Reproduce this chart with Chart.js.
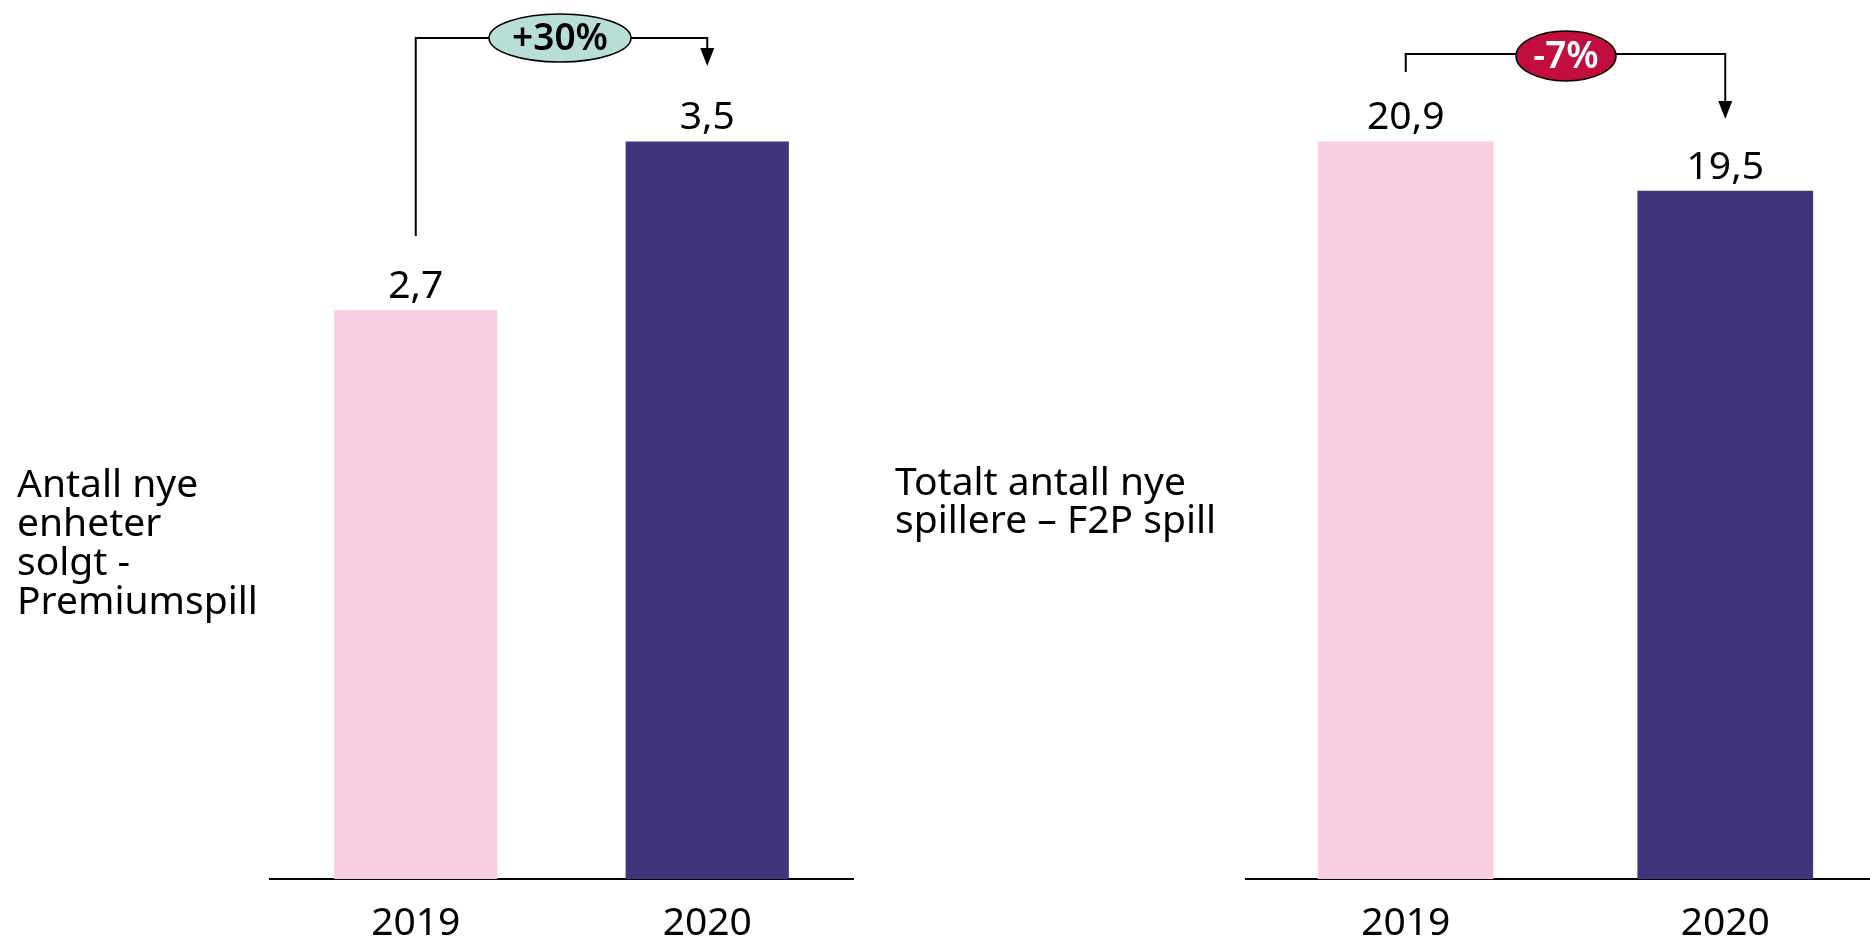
<!DOCTYPE html>
<html>
<head>
<meta charset="utf-8">
<script src="https://cdn.jsdelivr.net/npm/chart.js@4"></script>
<style>
  html, body { margin: 0; padding: 0; background: #fff; overflow: hidden; width: 1870px; height: 941px; }
  .wrap { position: absolute; top: 0; height: 941px; }
</style>
</head>
<body>
<div class="wrap" style="left:0;width:870px"><canvas id="chartPremium" width="870" height="941"></canvas></div>
<div class="wrap" style="left:880px;width:1005px"><canvas id="chartF2P" width="1005" height="941"></canvas></div>
<script>
// --- données ---
const years = ['2019', '2020'];
const premiumValues = [2.7, 3.5];
const f2pValues = [20.9, 19.5];
const barColors = ['#F8CEE3', '#3E357C'];
const premiumTitle = ['Antall nye', 'enheter', 'solgt -', 'Premiumspill'];
const f2pTitle = ['Totalt antall nye', 'spillere – F2P spill'];
const premiumChange = '+30%';
const f2pChange = '-7%';

const FONT = "'Noto Sans', 'DejaVu Sans', sans-serif";

function fmt(v) { return String(v).replace('.', ','); }

// étiquettes de valeur, titre de gauche et flèche de variation
const decorPlugin = {
    id: 'decor',
    afterDatasetsDraw(chart) {
        const ctx = chart.ctx;
        const o = chart.options.plugins.decor;
        const bars = chart.getDatasetMeta(0).data;
        const vals = chart.data.datasets[0].data;

        ctx.save();
        ctx.fillStyle = '#000';
        ctx.font = '39px ' + FONT;
        ctx.textAlign = 'center';
        ctx.textBaseline = 'alphabetic';
        bars.forEach((b, i) => ctx.fillText(fmt(vals[i]), b.x, b.y - 12));

        // titre
        ctx.textAlign = 'left';
        o.title.forEach((l, i) => ctx.fillText(l, o.titleX, o.titleY + i * o.lineH));

        // crochet + flèche
        const x1 = bars[0].x, x2 = bars[1].x;
        ctx.strokeStyle = '#000';
        ctx.lineWidth = 2;
        ctx.beginPath();
        ctx.moveTo(x1, o.legBottom);
        ctx.lineTo(x1, o.lineY);
        ctx.lineTo(x2, o.lineY);
        ctx.lineTo(x2, o.arrowTip - 16);
        ctx.stroke();
        ctx.fillStyle = '#000';
        ctx.beginPath();
        ctx.moveTo(x2 - 7, o.arrowTip - 18);
        ctx.lineTo(x2 + 7, o.arrowTip - 18);
        ctx.lineTo(x2, o.arrowTip);
        ctx.closePath();
        ctx.fill();

        // ellipse
        ctx.beginPath();
        ctx.ellipse(o.ellX, o.ellY, o.rx, o.ry, 0, 0, Math.PI * 2);
        ctx.fillStyle = o.ellFill;
        ctx.fill();
        ctx.lineWidth = 1.5;
        ctx.stroke();
        ctx.fillStyle = o.ellText;
        ctx.font = '600 37px ' + FONT;
        ctx.textAlign = 'center';
        ctx.textBaseline = 'middle';
        ctx.fillText(o.change, o.ellX, o.ellY + 1);
        ctx.restore();
    }
};

function makeChart(id, values, yMax, pad, decor) {
    return new Chart(document.getElementById(id), {
        type: 'bar',
        data: {
            labels: years,
            datasets: [{ data: values, backgroundColor: barColors, categoryPercentage: 1, barPercentage: decor.barPct }]
        },
        options: {
            responsive: false,
            animation: false,
            layout: { padding: pad },
            plugins: { legend: { display: false }, tooltip: { enabled: false }, decor: decor },
            scales: {
                x: {
                    grid: { display: false },
                    border: { display: true, color: '#000', width: 2 },
                    ticks: { color: '#000', font: { family: FONT, size: 39 }, padding: 13 },
                    afterFit: s => { s.height = 62; }
                },
                y: { display: false, min: 0, max: yMax }
            }
        },
        plugins: [decorPlugin]
    });
}

makeChart('chartPremium', premiumValues, 4, { left: 270, right: 17, top: 36, bottom: 0 }, {
    title: premiumTitle, titleX: 17, titleY: 497, lineH: 39,
    lineY: 38, legBottom: 236, arrowTip: 66, barPct: 0.56,
    ellX: 560, ellY: 38, rx: 71, ry: 24, ellFill: '#B7DFD7', ellText: '#000', change: premiumChange
});

makeChart('chartF2P', f2pValues, 24, { left: 366, right: 0, top: 32, bottom: 0 }, {
    title: f2pTitle, titleX: 15, titleY: 495, lineH: 38,
    lineY: 54, legBottom: 72, arrowTip: 119, barPct: 0.55,
    ellX: 686, ellY: 56, rx: 50, ry: 25, ellFill: '#C20E3E', ellText: '#fff', change: f2pChange
});
</script>
</body>
</html>
